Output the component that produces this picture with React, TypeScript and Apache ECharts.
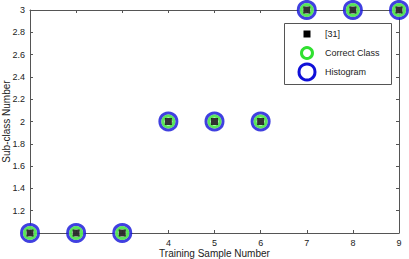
import React, { useEffect, useRef } from "react";
import * as echarts from "echarts";

const sampleNumbers = [1, 2, 3, 4, 5, 6, 7, 8, 9];
const subclassRef31 = [1, 1, 1, 2, 2, 2, 3, 3, 3];
const subclassCorrect = [1, 1, 1, 2, 2, 2, 3, 3, 3];
const subclassHistogram = [1, 1, 1, 2, 2, 2, 3, 3, 3];
const legendNames = ["[31]", "Correct Class", "Histogram"];
// tick labels hidden under the markers in the original
const coveredXTicks = [1, 2, 3];
const coveredYTicks = [1];

const FONT = "Liberation Sans, Arial, sans-serif";
const AX = "#555";

export default function App() {
  const ref = useRef<HTMLDivElement>(null);
  useEffect(() => {
    const chart = echarts.init(ref.current!, undefined, { renderer: "svg" });
    const pts = (ys: number[]) => sampleNumbers.map((x, i) => [x, ys[i]]);
    const axisCommon = {
      axisLine: { show: true, lineStyle: { color: AX, width: 1 } },
      axisTick: { show: true, inside: true, length: 3, lineStyle: { color: AX } },
      splitLine: { show: false },
    };
    const lx = 300, ly = 23;
    chart.setOption({
      animation: false,
      textStyle: { fontFamily: FONT },
      grid: { left: 30, right: 10, top: 10, bottom: 26, outerBoundsMode: "none", containLabel: false },
      xAxis: [
        {
          type: "value", min: 1, max: 9, interval: 1, position: "bottom",
          ...axisCommon,
          axisLabel: { color: "#222", fontSize: 9, margin: 5, fontFamily: FONT,
            formatter: (v: number) => (coveredXTicks.includes(v) ? "" : String(v)) },
          name: "Training Sample Number", nameLocation: "middle", nameGap: 15, nameMoveOverlap: false,
          nameTextStyle: { color: "#222", fontSize: 10, fontFamily: FONT },
        },
        {
          type: "value", min: 1, max: 9, interval: 1, position: "top",
          ...axisCommon, axisLabel: { show: false },
        },
      ],
      yAxis: [
        {
          type: "value", min: 1, max: 3, interval: 0.2, position: "left",
          ...axisCommon,
          axisLabel: { color: "#222", fontSize: 9, margin: 5, fontFamily: FONT,
            formatter: (v: number) => {
              const r = Math.round(v * 10) / 10;
              return coveredYTicks.includes(r) ? "" : String(r);
            } },
          name: "Sub-class Number", nameLocation: "middle", nameGap: 19, nameMoveOverlap: false,
          nameTextStyle: { color: "#222", fontSize: 10, fontFamily: FONT },
        },
        {
          type: "value", min: 1, max: 3, interval: 0.2, position: "right",
          ...axisCommon, axisLabel: { show: false },
        },
      ],
      series: [
        {
          name: legendNames[2], type: "scatter", data: pts(subclassHistogram),
          symbol: "circle", symbolSize: 17, clip: false, zlevel: 1, z: 3,
          itemStyle: { color: "#fff", borderColor: "#1010d8", borderWidth: 3 },
        },
        {
          name: legendNames[1], type: "scatter", data: pts(subclassCorrect),
          symbol: "circle", symbolSize: 11, clip: false, zlevel: 1, z: 4,
          itemStyle: { color: "rgba(0,0,0,0)", borderColor: "#30e030", borderWidth: 3 },
        },
        {
          name: legendNames[0], type: "scatter", data: pts(subclassRef31),
          symbol: "rect", symbolSize: 7, clip: false, zlevel: 1, z: 5,
          itemStyle: { color: "#000" },
        },
      ],
      graphic: [
        {
          type: "rect", left: 284, top: 23, z: 10, zlevel: 1,
          shape: { width: 107, height: 61 },
          style: { fill: "#fff", stroke: AX, lineWidth: 1 },
        },
        { type: "rect", x: lx + 3.5, y: ly + 7.5, z: 11, zlevel: 1, shape: { width: 7, height: 7 }, style: { fill: "#000" } },
        { type: "circle", x: lx + 7, y: ly + 30, z: 11, zlevel: 1, shape: { r: 5.5 }, style: { fill: "none", stroke: "#30e030", lineWidth: 3 } },
        { type: "circle", x: lx + 7, y: ly + 49, z: 11, zlevel: 1, shape: { r: 8 }, style: { fill: "none", stroke: "#1010d8", lineWidth: 3 } },
        { type: "text", x: 325, y: ly + 11, z: 11, zlevel: 1, style: { text: legendNames[0], fill: "#222", font: `9px ${FONT}`, verticalAlign: "middle" } },
        { type: "text", x: 325, y: ly + 30, z: 11, zlevel: 1, style: { text: legendNames[1], fill: "#222", font: `9px ${FONT}`, verticalAlign: "middle" } },
        { type: "text", x: 325, y: ly + 49, z: 11, zlevel: 1, style: { text: legendNames[2], fill: "#222", font: `9px ${FONT}`, verticalAlign: "middle" } },
      ],
    });
    return () => chart.dispose();
  }, []);
  return <div ref={ref} style={{ width: 409, height: 259, position: "absolute", left: 0, top: 0 }} />;
}
